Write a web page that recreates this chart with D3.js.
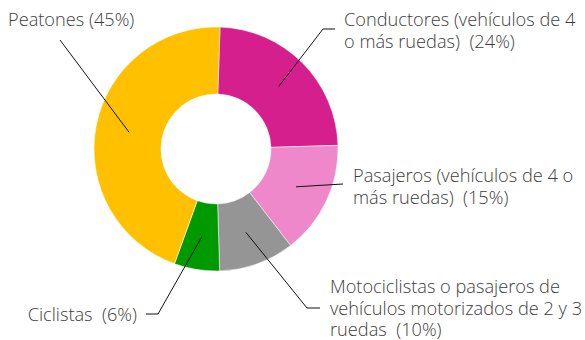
<!DOCTYPE html>
<html>
<head>
<meta charset="utf-8">
<script src="https://cdn.jsdelivr.net/npm/d3@7"></script>
<style>
  html, body { margin: 0; padding: 0; background: #fff; }
  svg text { font-family: "Open Sans", Lato, "Liberation Sans", sans-serif; font-weight: 300; fill: #3d3d3d; white-space: pre; }
</style>
</head>
<body>
<svg id="chart" width="585" height="340"></svg>
<script>
// Road-traffic deaths by type of road user (percent)
const categories = [
  "Conductores (vehículos de 4 o más ruedas)",
  "Pasajeros (vehículos de 4 o más ruedas)",
  "Motociclistas o pasajeros de vehículos motorizados de 2 y 3 ruedas",
  "Ciclistas",
  "Peatones"
];
const values = [24, 15, 10, 6, 45];
const colors = ["#d41f8c", "#ee88ca", "#959595", "#009a00", "#ffc000"];
// Label text, one entry per line
const labelLines = [
  ["Conductores (vehículos de 4", "o más ruedas)  (24%)"],
  ["Pasajeros (vehículos de 4 o", "más ruedas)  (15%)"],
  ["Motociclistas o pasajeros de", "vehículos motorizados de 2 y 3", "ruedas  (10%)"],
  ["Ciclistas  (6%)"],
  ["Peatones (45%)"]
];

// Layout
const cx = 216, cy = 149, rOuter = 122, rInner = 55;
const startAngle = 0.033;
const fontSize = 18.2, lineHeight = 21.5;
// label placement: text anchor point, first baseline, leader elbow & end
const labelLayout = [
  { x: 344, y: 26, anchor: "start", elbow: [323, 29], end: [335, 29] },
  { x: 353, y: 182, anchor: "start", elbow: null, end: [343, 184] },
  { x: 330, y: 293, anchor: "start", elbow: [307, 308], end: [320, 308] },
  { x: 137, y: 321, anchor: "end", elbow: [158, 314], end: [146, 314] },
  { x: 8, y: 26, anchor: "start", elbow: null, end: [60, 40] }
];

const svg = d3.select("#chart");
const g = svg.append("g").attr("transform", `translate(${cx},${cy})`);

const pie = d3.pie().sort(null).value(d => d)
  .startAngle(startAngle).endAngle(startAngle + 2 * Math.PI);
const arcs = pie(values);
const arc = d3.arc().innerRadius(rInner).outerRadius(rOuter);
const mid = d3.arc().innerRadius((rInner + rOuter) / 2).outerRadius((rInner + rOuter) / 2);

g.selectAll("path.slice")
  .data(arcs)
  .join("path")
  .attr("class", "slice")
  .attr("d", arc)
  .attr("fill", (d, i) => colors[i])
  .attr("stroke", "#fff")
  .attr("stroke-width", 0.5);

// Leader lines from each slice centroid to its label
svg.selectAll("path.leader")
  .data(arcs)
  .join("path")
  .attr("class", "leader")
  .attr("fill", "none")
  .attr("stroke", "#111")
  .attr("stroke-width", 1)
  .attr("d", (d, i) => {
    const c = mid.centroid(d);
    const pts = [[cx + c[0], cy + c[1]]];
    const L = labelLayout[i];
    if (L.elbow) pts.push(L.elbow);
    pts.push(L.end);
    return d3.line()(pts);
  });

// Labels
const labels = svg.selectAll("text.label")
  .data(labelLines)
  .join("text")
  .attr("class", "label")
  .attr("font-size", fontSize)
  .attr("text-anchor", (d, i) => labelLayout[i].anchor)
  .attr("x", (d, i) => labelLayout[i].x)
  .attr("y", (d, i) => labelLayout[i].y);

labels.each(function (lines, i) {
  d3.select(this).selectAll("tspan")
    .data(lines)
    .join("tspan")
    .attr("x", labelLayout[i].x)
    .attr("dy", (l, j) => j === 0 ? 0 : lineHeight)
    .text(l => l);
});
</script>
</body>
</html>
